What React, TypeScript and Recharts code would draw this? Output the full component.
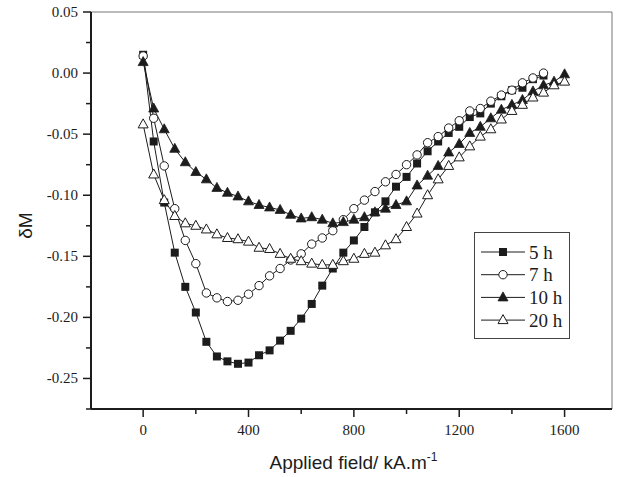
import { Label, Legend, Line, LineChart, ReferenceLine, XAxis, YAxis } from "recharts";

const fields = [
  0, 40, 80, 120, 160, 200, 240, 280, 320, 360, 400, 440, 480, 520, 560, 600,
  640, 680, 720, 760, 800, 840, 880, 920, 960, 1000, 1040, 1080, 1120, 1160,
  1200, 1240, 1280, 1320, 1360, 1400, 1440, 1480, 1520, 1560, 1600,
];

const h5 = [
  0.015, -0.056, -0.106, -0.147, -0.175, -0.196, -0.22, -0.232, -0.236, -0.238,
  -0.237, -0.231, -0.227, -0.219, -0.211, -0.201, -0.189, -0.174, -0.16, -0.147,
  -0.137, -0.126, -0.114, -0.105, -0.093, -0.085, -0.074, -0.064, -0.056, -0.049,
  -0.044, -0.036, -0.033, -0.025, -0.019, -0.014, -0.012, -0.005, -0.002,
];

const h7 = [
  0.014, -0.037, -0.076, -0.111, -0.137, -0.156, -0.18, -0.184, -0.187, -0.186,
  -0.181, -0.174, -0.166, -0.16, -0.153, -0.148, -0.14, -0.135, -0.129, -0.12,
  -0.111, -0.104, -0.097, -0.089, -0.083, -0.075, -0.067, -0.057, -0.052, -0.045,
  -0.039, -0.031, -0.029, -0.023, -0.018, -0.014, -0.008, -0.004, 0.0,
];

const h10 = [
  0.009, -0.029, -0.046, -0.062, -0.073, -0.081, -0.087, -0.094, -0.098, -0.101,
  -0.105, -0.108, -0.11, -0.112, -0.116, -0.119, -0.118, -0.12, -0.123, -0.122,
  -0.12, -0.118, -0.114, -0.111, -0.108, -0.105, -0.092, -0.084, -0.076, -0.065,
  -0.058, -0.049, -0.044, -0.037, -0.03, -0.026, -0.022, -0.015, -0.01, -0.007,
  -0.001,
];

const h20 = [
  -0.042, -0.083, -0.104, -0.117, -0.123, -0.125, -0.128, -0.132, -0.135, -0.136,
  -0.138, -0.143, -0.144, -0.148, -0.152, -0.154, -0.156, -0.157, -0.157, -0.154,
  -0.152, -0.148, -0.147, -0.141, -0.136, -0.126, -0.115, -0.1, -0.087, -0.076,
  -0.069, -0.06, -0.052, -0.046, -0.038, -0.031, -0.026, -0.02, -0.016, -0.01,
  -0.007,
];

const xTicks = [0, 200, 400, 600, 800, 1000, 1200, 1400, 1600];
const xMajor = [0, 400, 800, 1200, 1600];
const yTicks = [
  0.05, 0.025, 0, -0.025, -0.05, -0.075, -0.1, -0.125, -0.15, -0.175, -0.2,
  -0.225, -0.25, -0.275,
];
const yMajor = [0.05, 0, -0.05, -0.1, -0.15, -0.2, -0.25];

const X_MIN = -198;
const X_MAX = 1780;
const Y_MIN = -0.275;
const Y_MAX = 0.05;

const series = [
  { key: "h5", name: "5 h", shape: "square", values: h5 },
  { key: "h7", name: "7 h", shape: "circle", values: h7 },
  { key: "h10", name: "10 h", shape: "triUp", values: h10 },
  { key: "h20", name: "20 h", shape: "triOpen", values: h20 },
];

const data = fields.map((f, i) => {
  const row: Record<string, number | undefined> = { field: f };
  series.forEach((s) => {
    row[s.key] = s.values[i];
  });
  return row;
});

const INK = "#1c1c1c";
const SERIF = "'Liberation Serif', 'Times New Roman', serif";
const SANS = "'Liberation Sans', Arial, sans-serif";

const Marker = ({ shape, cx, cy }: { shape: string; cx: number; cy: number }) => {
  if (shape === "square")
    return <rect x={cx - 4} y={cy - 4} width={8} height={8} fill={INK} />;
  if (shape === "circle")
    return <circle cx={cx} cy={cy} r={4.2} fill="#fff" stroke={INK} strokeWidth={1} />;
  const pts = `${cx},${cy - 5.5} ${cx - 5},${cy + 3.5} ${cx + 5},${cy + 3.5}`;
  if (shape === "triUp") return <polygon points={pts} fill={INK} stroke={INK} strokeWidth={0.8} />;
  return <polygon points={pts} fill="#fff" stroke={INK} strokeWidth={1} />;
};

const dotFor = (shape: string) => (props: any) => {
  const { cx, cy, index, value } = props;
  if (cx == null || cy == null || value == null || Number.isNaN(cy))
    return <g key={index} />;
  return (
    <g key={index}>
      <Marker shape={shape} cx={cx} cy={cy} />
    </g>
  );
};

const XTick = (props: any) => {
  const { x, y, payload } = props;
  const major = xMajor.includes(payload.value);
  return (
    <g>
      <line x1={x} x2={x} y1={y} y2={y + (major ? 8 : 5)} stroke={INK} strokeWidth={1.5} />
      {major && (
        <text x={x} y={y + 26} textAnchor="middle" fontFamily={SERIF} fontSize={15} fill={INK}>
          {payload.value}
        </text>
      )}
    </g>
  );
};

const YTick = (props: any) => {
  const { x, y, payload } = props;
  const major = yMajor.some((v) => Math.abs(v - payload.value) < 1e-9);
  return (
    <g>
      <line x1={x} x2={x - (major ? 8 : 5)} y1={y} y2={y} stroke={INK} strokeWidth={1.5} />
      {major && (
        <text x={x - 13} y={y + 5} textAnchor="end" fontFamily={SERIF} fontSize={15} fill={INK}>
          {payload.value.toFixed(2)}
        </text>
      )}
    </g>
  );
};

const LegendBox = () => (
  <svg width={96} height={107}>
    <rect x={0.5} y={0.5} width={95} height={106} fill="#fff" stroke="#444" strokeWidth={1} />
    {series.map((s, i) => {
      const cy = 20 + i * 22.7;
      return (
        <g key={s.key}>
          <line x1={7} x2={51} y1={cy} y2={cy} stroke={INK} strokeWidth={1} />
          <Marker shape={s.shape} cx={29} cy={cy} />
          <text x={55} y={cy + 6.5} fontFamily={SERIF} fontSize={19} fill={INK}>
            {s.name}
          </text>
        </g>
      );
    })}
  </svg>
);

export default function App() {
  return (
    <div style={{ position: "absolute", left: 0, top: 0, background: "#fff" }}>
      <LineChart
        width={618}
        height={477}
        data={data}
        margin={{ top: 12, right: 6, bottom: 0, left: 0 }}
      >
        <XAxis
          dataKey="field"
          type="number"
          domain={[X_MIN, X_MAX]}
          ticks={xTicks}
          interval={0}
          height={68}
          tickSize={0}
          tickMargin={0}
          tickLine={false}
          axisLine={{ stroke: INK, strokeWidth: 2 }}
          tick={<XTick />}
        >
          <Label
            content={(p: any) => {
              const vb = p.viewBox;
              return (
                <text
                  x={vb.x + vb.width / 2 + 2}
                  y={vb.y + 60}
                  textAnchor="middle"
                  fontFamily={SANS}
                  fontSize={19}
                  fill={INK}
                >
                  Applied field/ kA.m
                  <tspan dy={-8} fontSize={12}>
                    -1
                  </tspan>
                </text>
              );
            }}
          />
        </XAxis>
        <YAxis
          type="number"
          domain={[Y_MIN, Y_MAX]}
          ticks={yTicks}
          interval={0}
          width={91}
          tickSize={0}
          tickMargin={0}
          tickLine={false}
          axisLine={{ stroke: INK, strokeWidth: 2 }}
          tick={<YTick />}
        >
          <Label
            content={(p: any) => {
              const vb = p.viewBox;
              const cx = 25;
              const cy = vb.y + vb.height / 2 + 15;
              return (
                <text
                  x={cx}
                  y={cy}
                  transform={`rotate(-90, ${cx}, ${cy})`}
                  textAnchor="middle"
                  dominantBaseline="central"
                  fontFamily={SANS}
                  fontSize={19}
                  fill={INK}
                >
                  δM
                </text>
              );
            }}
          />
        </YAxis>
        {/* top and right frame */}
        <ReferenceLine y={Y_MAX} stroke="#777" strokeWidth={1} ifOverflow="visible" />
        <ReferenceLine x={X_MAX} stroke="#777" strokeWidth={1} ifOverflow="visible" />
        <Legend
          layout="vertical"
          align="center"
          verticalAlign="middle"
          wrapperStyle={{ position: "absolute", left: 474, top: 232, width: 96, height: 107 }}
          content={() => <LegendBox />}
        />
        {series.map((s) => (
          <Line
            key={s.key}
            dataKey={s.key}
            name={s.name}
            type="linear"
            stroke={INK}
            strokeWidth={1}
            dot={dotFor(s.shape)}
            activeDot={false}
            isAnimationActive={false}
          />
        ))}
      </LineChart>
    </div>
  );
}
